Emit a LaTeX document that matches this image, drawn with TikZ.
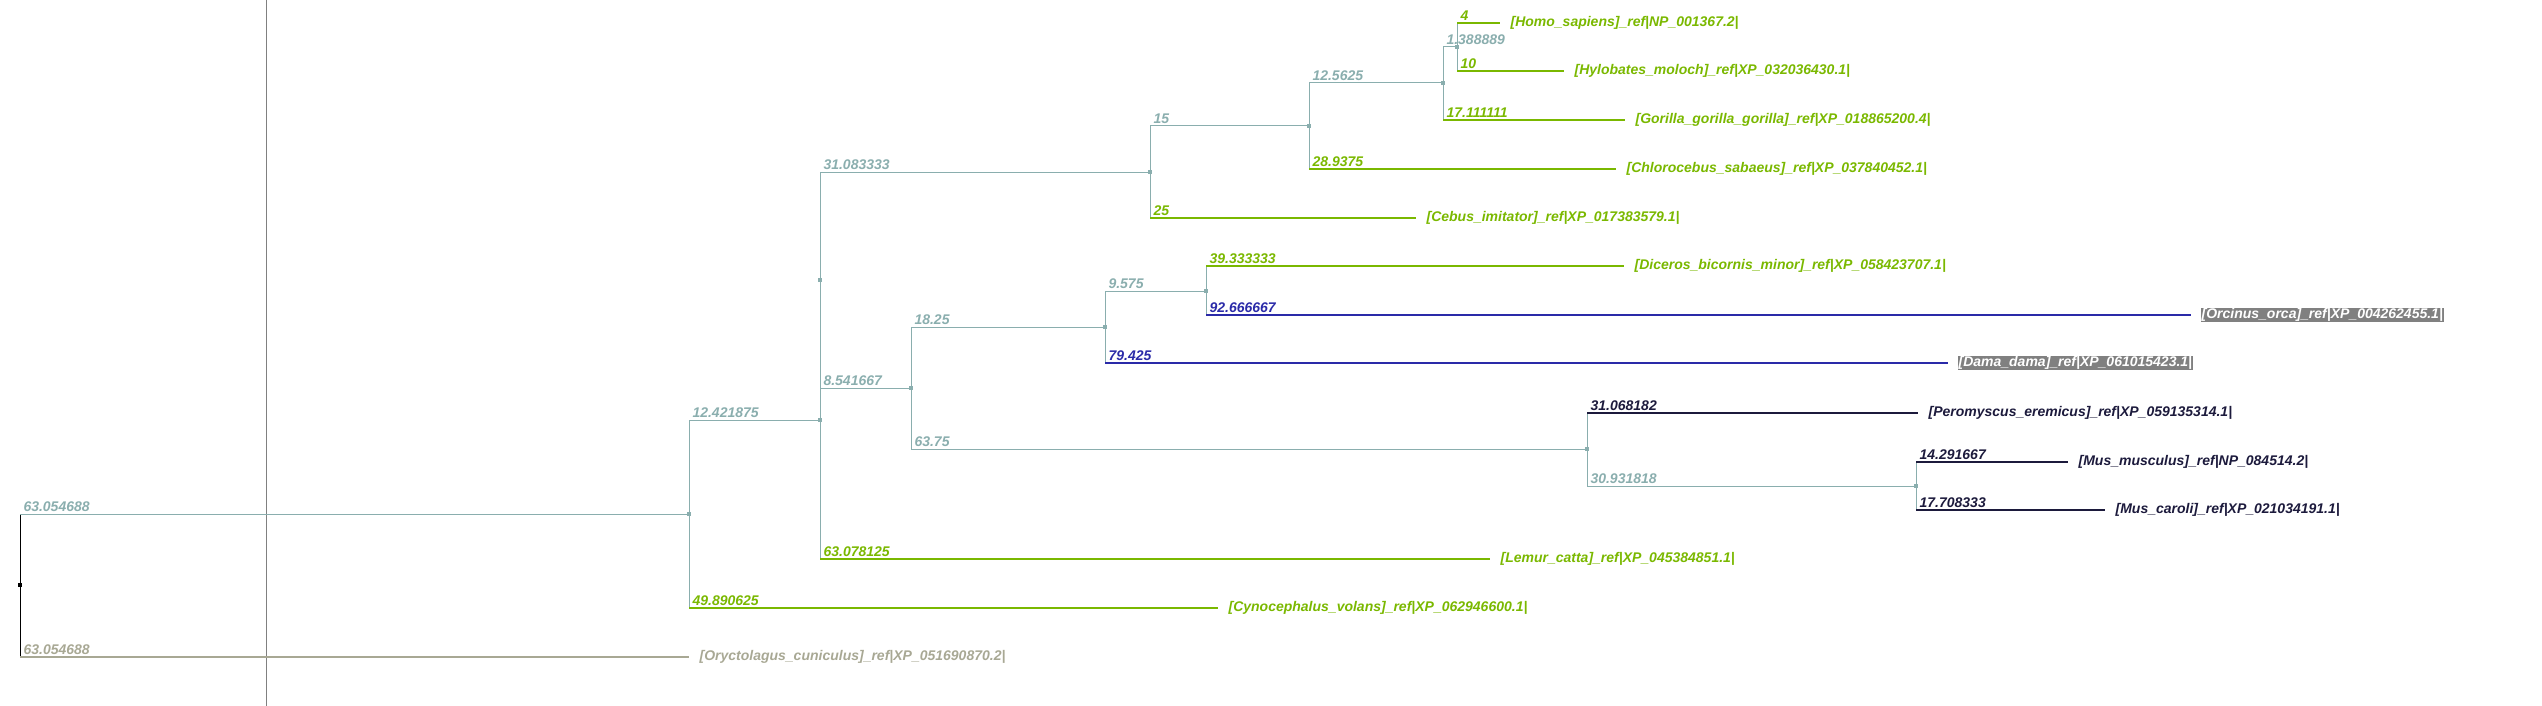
\documentclass[tikz,border=0pt]{standalone}
\usepackage{fontspec}
\setmainfont{Liberation Sans}
\definecolor{brgray}{HTML}{8AAEAE}
\definecolor{leafgreen}{HTML}{7AB800}
\definecolor{leafblue}{HTML}{2A2AA8}
\definecolor{leafnavy}{HTML}{1C1A3C}
\definecolor{outgray}{HTML}{A8A894}
\definecolor{hlgray}{HTML}{808080}
\newcommand{\treefont}{\bfseries\itshape\fontsize{14}{16}\selectfont}
\tikzset{
  innerbr/.style={brgray,line width=1pt},
  primbr/.style={leafgreen,line width=1.2pt},
  whalebr/.style={leafblue,line width=1.2pt},
  rodbr/.style={leafnavy,line width=1.2pt},
  outbr/.style={outgray,line width=1.2pt},
  brlen/.style={anchor=south west,inner sep=0pt,xshift=3pt,yshift=2pt,font=\treefont},
  leaf/.style={anchor=west,inner sep=0pt,xshift=10pt,font=\treefont},
  hilite/.style={anchor=west,inner xsep=1pt,inner ysep=0.5pt,xshift=9pt,fill=hlgray,text=white,font=\treefont},
  dot/.style={fill=brgray}
}
\begin{document}
\begin{tikzpicture}[x=1pt,y=-1pt]
\useasboundingbox (0,0) rectangle (2542,706);
%% cursor line
\draw[hlgray,line width=1pt] (266.5,0) -- (266.5,706);
%% tree nodes
\coordinate (root) at (20,585);
\coordinate (n1) at (689,514);
\coordinate (n2) at (820,420);
\coordinate (n3) at (820,280);
\coordinate (n4) at (1150,172);
\coordinate (n5) at (1309,126);
\coordinate (n6) at (1443,83);
\coordinate (n7) at (1457,47);
\coordinate (n8) at (911,388);
\coordinate (n9) at (1105,327);
\coordinate (n10) at (1206,291);
\coordinate (n11) at (1587,449);
\coordinate (n12) at (1916,486);
%% leaf ends
\coordinate (homo) at (1500,23);
\coordinate (hylo) at (1564,71);
\coordinate (gori) at (1625,120);
\coordinate (chlo) at (1616,169);
\coordinate (cebu) at (1416,218);
\coordinate (dice) at (1624,266);
\coordinate (orca) at (2191,315);
\coordinate (dama) at (1948,363);
\coordinate (pero) at (1918,413);
\coordinate (musm) at (2068,462);
\coordinate (musc) at (2105,510);
\coordinate (lemu) at (1490,559);
\coordinate (cyno) at (1218,608);
\coordinate (oryc) at (689,657);
%% verticals
\draw[black,line width=1pt] (root |- n1) -- (root |- oryc);
\draw[innerbr] (n1 |- n2) -- (n1 |- cyno);
\draw[innerbr] (n3 |- n4) -- (n2 |- lemu);
\draw[innerbr] (n4 |- n5) -- (n4 |- cebu);
\draw[innerbr] (n5 |- n6) -- (n5 |- chlo);
\draw[innerbr] (n6 |- n7) -- (n6 |- gori);
\draw[innerbr] (n7 |- homo) -- (n7 |- hylo);
\draw[innerbr] (n8 |- n9) -- (n8 |- n11);
\draw[innerbr] (n9 |- n10) -- (n9 |- dama);
\draw[innerbr] (n10 |- dice) -- (n10 |- orca);
\draw[innerbr] (n11 |- pero) -- (n11 |- n12);
\draw[innerbr] (n12 |- musm) -- (n12 |- musc);
%% inner branches
\draw[innerbr] (root |- n1) node[brlen]{63.054688} -- (n1);
\draw[innerbr] (n1 |- n2) node[brlen]{12.421875} -- (n2);
\draw[innerbr] (n3 |- n4) node[brlen]{31.083333} -- (n4);
\draw[innerbr] (n3 |- n8) node[brlen]{8.541667} -- (n8);
\draw[innerbr] (n4 |- n5) node[brlen]{15} -- (n5);
\draw[innerbr] (n5 |- n6) node[brlen]{12.5625} -- (n6);
\draw[innerbr] (n6 |- n7) node[brlen]{1.388889} -- (n7);
\draw[innerbr] (n8 |- n9) node[brlen]{18.25} -- (n9);
\draw[innerbr] (n8 |- n11) node[brlen]{63.75} -- (n11);
\draw[innerbr] (n9 |- n10) node[brlen]{9.575} -- (n10);
\draw[innerbr] (n11 |- n12) node[brlen]{30.931818} -- (n12);
%% leaf branches
\draw[primbr] (n7 |- homo) node[brlen]{4} -- (homo) node[leaf] (homoL) {[Homo\_sapiens]\_ref|NP\_001367.2|};
\draw[primbr] (n7 |- hylo) node[brlen]{10} -- (hylo) node[leaf] (hyloL) {[Hylobates\_moloch]\_ref|XP\_032036430.1|};
\draw[primbr] (n6 |- gori) node[brlen]{17.111111} -- (gori) node[leaf] (goriL) {[Gorilla\_gorilla\_gorilla]\_ref|XP\_018865200.4|};
\draw[primbr] (n5 |- chlo) node[brlen]{28.9375} -- (chlo) node[leaf] (chloL) {[Chlorocebus\_sabaeus]\_ref|XP\_037840452.1|};
\draw[primbr] (n4 |- cebu) node[brlen]{25} -- (cebu) node[leaf] (cebuL) {[Cebus\_imitator]\_ref|XP\_017383579.1|};
\draw[primbr] (n10 |- dice) node[brlen]{39.333333} -- (dice) node[leaf] (diceL) {[Diceros\_bicornis\_minor]\_ref|XP\_058423707.1|};
\draw[whalebr] (n10 |- orca) node[brlen]{92.666667} -- (orca) node[hilite] (orcaL) {[Orcinus\_orca]\_ref|XP\_004262455.1|};
\draw[whalebr] (n9 |- dama) node[brlen]{79.425} -- (dama) node[hilite] (damaL) {[Dama\_dama]\_ref|XP\_061015423.1|};
\draw[rodbr] (n11 |- pero) node[brlen]{31.068182} -- (pero) node[leaf] (peroL) {[Peromyscus\_eremicus]\_ref|XP\_059135314.1|};
\draw[rodbr] (n12 |- musm) node[brlen]{14.291667} -- (musm) node[leaf] (musmL) {[Mus\_musculus]\_ref|NP\_084514.2|};
\draw[rodbr] (n12 |- musc) node[brlen]{17.708333} -- (musc) node[leaf] (muscL) {[Mus\_caroli]\_ref|XP\_021034191.1|};
\draw[primbr] (n2 |- lemu) node[brlen]{63.078125} -- (lemu) node[leaf] (lemuL) {[Lemur\_catta]\_ref|XP\_045384851.1|};
\draw[primbr] (n1 |- cyno) node[brlen]{49.890625} -- (cyno) node[leaf] (cynoL) {[Cynocephalus\_volans]\_ref|XP\_062946600.1|};
\draw[outbr] (root |- oryc) node[brlen]{63.054688} -- (oryc) node[leaf] (orycL) {[Oryctolagus\_cuniculus]\_ref|XP\_051690870.2|};
%% node dots
\fill[black] (root) +(-2,-2) rectangle +(2,2);
\foreach \n in {n1,n2,n3,n4,n5,n6,n7,n8,n9,n10,n11,n12}
  \fill[dot] (\n) +(-2,-2) rectangle +(2,2);
\end{tikzpicture}
\end{document}
